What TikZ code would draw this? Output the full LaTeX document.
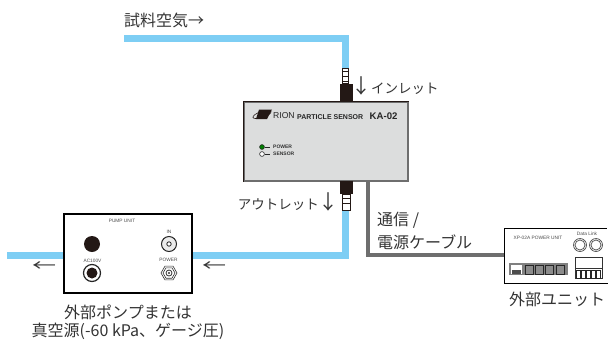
\documentclass[tikz,border=0pt]{standalone}
\usepackage{fontspec}
\setmainfont{Liberation Sans}
\newfontfamily\jpfont{Noto Sans CJK JP}
\usetikzlibrary{shapes.geometric}
\definecolor{tubeblue}{HTML}{7ECEF4}
\definecolor{cablegray}{HTML}{6E6E6E}
\definecolor{sensorgray}{HTML}{DCDDDD}
\definecolor{couplerblack}{HTML}{231815}
\tikzset{
  tube/.style={line width=7pt,color=tubeblue},
  cable/.style={line width=4pt,color=cablegray},
  couplerbox/.style={fill=couplerblack,draw=none,inner sep=0pt,minimum width=13pt,minimum height=18pt},
  nipple/.style={fill=white,draw=couplerblack,line width=1pt,inner sep=0pt,minimum width=6.5pt,minimum height=15pt},
  jplabel/.style={inner sep=0pt,text=black!80,font=\jpfont\fontsize{16}{16}\selectfont},
  portlabel/.style={inner sep=0pt,text=black!80,font=\jpfont\fontsize{13.5}{13.5}\selectfont},
  flowarrow/.style={jplabel,xscale=1.5,transform shape},
  tiny/.style={inner sep=0pt,text=black!70,font=\fontsize{4.8}{4.8}\selectfont},
  ring/.style={draw=black!85,fill=white,line width=1pt},
}
\begin{document}
\begin{tikzpicture}[x=1pt,y=-1pt]
\useasboundingbox (0,0) rectangle (608,341);
\coordinate (tubestart) at (124,38);
\coordinate (tubetop) at (345.5,38);
\coordinate (tubecorner) at (345.5,255.5);
\coordinate (tubeend) at (7,255.5);
\coordinate (cablecorner) at (368,255);
\node[draw=black,line width=2pt,fill=white,inner sep=0pt,minimum width=128pt,minimum height=79pt] (pump) at (128,253.5) {};
\draw[tube] (tubestart) -- (tubetop) -- (tubecorner) -- (pump.east |- tubecorner);
\draw[tube] (pump.west |- tubeend) -- (tubeend);
\node[draw=black,line width=.4pt,inner sep=0pt,minimum width=103pt,minimum height=55pt,fill=white] (unit) at (556,255.5) {};
\draw[white,line width=1pt] (unit.north east) -- (unit.south east);
\node[draw=cablegray,line width=1.2pt,fill=sensorgray,inner sep=0pt,minimum width=164pt,minimum height=79pt] (sensor) at (326,141.5) {};
\draw[couplerblack,line width=.8pt] (sensor.south west) -- (sensor.north west) -- (sensor.north east);
\draw[cable] (sensor.south -| cablecorner) -- (cablecorner) -- (unit.west |- cablecorner);
\node[couplerbox] (inlet) at (346.5,93) {};
\node[nipple] (inletnipple) at (345.5,76) {};
\foreach \y in {71,76,81}
	\draw[couplerblack,line width=1pt] (342.5,\y) -- (348.5,\y);
\node[couplerbox,minimum height=13pt] (outlet) at (346.5,187.5) {};
\node[nipple,minimum width=8pt,minimum height=16pt] (outletnipple) at (346.5,202) {};
\foreach \y in {198,203}
	\draw[couplerblack,line width=1pt] (343,\y) -- (350,\y);
\node[jplabel,anchor=west] (samplelabel) at (124,20) {試料空気→};
\node[portlabel,anchor=west] (inletlabel) at (351,85.5) {{\fontsize{20}{20}\selectfont ↓}インレット};
\node[portlabel,anchor=east] (outletlabel) at (339,201.5) {アウトレット{\fontsize{20}{20}\selectfont ↓}};
\node[jplabel,anchor=west] (cablelabela) at (377,220) {通信 /};
\node[jplabel,anchor=west] (cablelabelb) at (377,242) {電源ケーブル};
\node[jplabel] (pumplabela) at (128,312) {外部ポンプまたは};
\node[jplabel] (pumplabelb) at (128,331) {真空源(-60 kPa、ゲージ圧)};
\node[jplabel] (unitlabel) at (557,299) {外部ユニット};
\node[flowarrow] (arrowout) at (44,267) {←};
\node[flowarrow] (arrowin) at (214,267) {←};
\draw[couplerblack,line width=.6pt,rotate around={18:(262,114.5)}] (262,114.5) ellipse (9.5pt and 3pt);
\fill[couplerblack] (259,109.5) -- (272,109.5) -- (267,119) -- (256,119) -- cycle;
\node[anchor=west,inner sep=0pt,font=\fontsize{8.6}{8.6}\selectfont,text=black!85] (rion) at (273,116) {RION};
\node[anchor=west,inner sep=0pt,font=\bfseries\fontsize{7}{7}\selectfont,text=black!85] (sensorname) at (297,117) {PARTICLE SENSOR};
\node[anchor=west,inner sep=0pt,font=\bfseries\fontsize{9.6}{9.6}\selectfont,text=black!85] (sensormodel) at (369.5,116.5) {KA-02};
\draw[black!85,fill=green!50!black,line width=.6pt] (262,147) circle (2.4pt);
\draw[black!85,fill=white,line width=.6pt] (262,154) circle (2.4pt);
\draw[black!85,line width=.6pt] (265,147) -- (270,147);
\draw[black!85,line width=.6pt] (265,154) -- (270,154);
\node[anchor=west,inner sep=0pt,font=\bfseries\fontsize{5}{5}\selectfont,text=black!80] (powerled) at (273,147) {POWER};
\node[anchor=west,inner sep=0pt,font=\bfseries\fontsize{5}{5}\selectfont,text=black!80] (sensorled) at (273,154) {SENSOR};
\node[tiny] (pumpname) at (122,221) {PUMP UNIT};
\node[tiny] (acname) at (92.5,261) {AC100V};
\node[tiny] (inname) at (169,232) {IN};
\node[tiny] (powername) at (168.5,260) {POWER};
\fill[couplerblack] (92,244) circle (8pt);
\draw[ring,line width=1.2pt] (92,273) circle (8.5pt);
\fill[couplerblack] (92,273) circle (5.5pt);
\draw[ring,fill=black!8] (169,244) circle (7.5pt);
\draw[ring,line width=.8pt] (169,244) circle (2.2pt);
\node[regular polygon,regular polygon sides=6,draw=black!80,line width=.6pt,inner sep=0pt,minimum size=16pt] (powerjack) at (169,273) {};
\node[regular polygon,regular polygon sides=6,draw=black!80,line width=.6pt,inner sep=0pt,minimum size=12pt] (powerjackin) at (169,273) {};
\draw[black!80,line width=.8pt] (169,273) circle (3pt);
\fill[black!80] (169,273) circle (1.2pt);
\node[tiny,font=\fontsize{4.8}{4.8}\selectfont] (unitname) at (538,238) {XP-02A POWER UNIT};
\node[tiny,font=\fontsize{4.8}{4.8}\selectfont] (linkname) at (587,234) {Data Link};
\foreach \x in {580,596}
	\draw[black!70,fill=white,line width=.7pt] (\x,245) circle (6.5pt) (\x,245) circle (5pt);
\fill[black!50] (509,263) rectangle (568,275);
\draw[black!50,fill=white,line width=.4pt] (510,264) rectangle (522,274);
\fill[black!70] (512,270) rectangle (521,273.5);
\foreach \x in {525,535,545,556}
	\draw[black!85,fill=black!45,line width=.7pt] (\x,265) rectangle (\x+8,274);
\draw[black!80,fill=white,line width=.4pt] (575,257) rectangle (602,278);
\draw[black!80,line width=.4pt] (575,268) -- (602,268);
\foreach \x in {576,581.2,586.4,591.6,596.8}
	\draw[black!85,fill=white,line width=.8pt] (\x,270) rectangle (\x+4,278);
\end{tikzpicture}
\end{document}
